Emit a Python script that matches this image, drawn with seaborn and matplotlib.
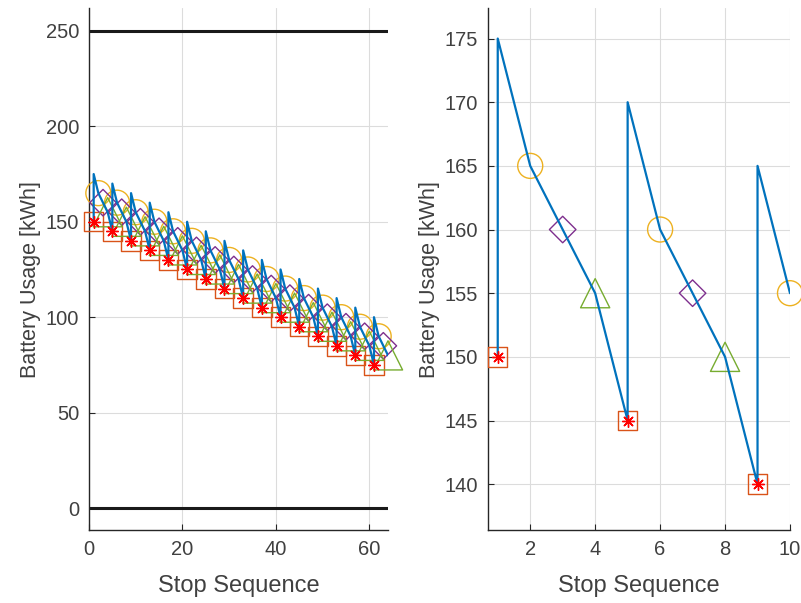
import matplotlib
matplotlib.use("Agg")
import matplotlib.pyplot as plt
import seaborn as sns
import pandas as pd

sns.set_theme(style="white")
plt.rcParams['font.family'] = ['Liberation Sans', 'DejaVu Sans']

# ---- data ----
stops = list(range(1, 65))
# battery on arrival at each stop
arrive = [150, 165, 160, 155, 145, 160, 155, 150, 140, 155, 150, 145,
          135, 150, 145, 140, 130, 145, 140, 135, 125, 140, 135, 130,
          120, 135, 130, 125, 115, 130, 125, 120, 110, 125, 120, 115,
          105, 120, 115, 110, 100, 115, 110, 105, 95, 110, 105, 100,
          90, 105, 100, 95, 85, 100, 95, 90, 80, 95, 90, 85,
          75, 90, 85, 80]
# battery after charging at each stop
depart = [175, 165, 160, 155, 170, 160, 155, 150, 165, 155, 150, 145,
          160, 150, 145, 140, 155, 145, 140, 135, 150, 140, 135, 130,
          145, 135, 130, 125, 140, 130, 125, 120, 135, 125, 120, 115,
          130, 120, 115, 110, 125, 115, 110, 105, 120, 110, 105, 100,
          115, 105, 100, 95, 110, 100, 95, 90, 105, 95, 90, 85,
          100, 90, 85, 80]
limit_lines = [0, 250]
left_xticks = [0, 20, 40, 60]
left_yticks = [0, 50, 100, 150, 200, 250]
right_xticks = [2, 4, 6, 8, 10]
right_yticks = [140, 145, 150, 155, 160, 165, 170, 175]

# build line path (vertical jump where charging happens)
lx, ly = [], []
for s, a, d in zip(stops, arrive, depart):
    lx.append(s); ly.append(a)
    if d != a:
        lx.append(s); ly.append(d)
line_df = pd.DataFrame({"x": lx, "y": ly})
stop_df = pd.DataFrame({"x": stops, "y": arrive})
stop_df["kind"] = [(s - 1) % 4 for s in stops]

BLUE = "#0072BD"
ORANGE = "#D95319"
YELLOW = "#EDB120"
PURPLE = "#7E2F8E"
GREEN = "#77AC30"
AXC = "#262626"
TXT = "#404040"

marker_specs = [
    (0, "s", ORANGE, 14),
    (1, "o", YELLOW, 18),
    (2, "D", PURPLE, 13.5),
    (3, "^", GREEN, 21),
]

fig = plt.figure(figsize=(8.01, 6.03), dpi=100)
ax1 = fig.add_axes([89 / 801, 73 / 603, 299 / 801, 522 / 603])
ax2 = fig.add_axes([488 / 801, 73 / 603, 302 / 801, 522 / 603])


def draw(ax, xmax):
    ldf = line_df[line_df["x"] <= xmax]
    sdf = stop_df[stop_df["x"] <= xmax]
    for kind, m, col, ms in marker_specs:
        d = sdf[sdf["kind"] == kind]
        sns.scatterplot(data=d, x="x", y="y", ax=ax, marker=m, s=ms ** 2,
                        facecolors="none", edgecolor=col, linewidth=1.0,
                        clip_on=False, zorder=3, legend=False)
    sns.lineplot(data=ldf, x="x", y="y", ax=ax, sort=False, estimator=None,
                 color=BLUE, linewidth=1.6, zorder=4, legend=False)
    d = sdf[sdf["kind"] == 0]
    sns.scatterplot(data=d, x="x", y="y", ax=ax, marker=(8, 2, 0), s=8.5 ** 2,
                    color="red", linewidth=1.0, clip_on=False, zorder=5,
                    legend=False)


draw(ax1, 64)
for v in limit_lines:
    sns.lineplot(x=[0, 64], y=[v, v], ax=ax1, color="#1a1a1a", linewidth=2.2,
                 zorder=2)
draw(ax2, 10)

ax1.set_xlim(0, 64)
ax1.set_ylim(-11.5, 262)
ax1.set_xticks(left_xticks)
ax1.set_yticks(left_yticks)
ax2.set_xlim(0.7, 10)
ax2.set_ylim(136.4, 177.4)
ax2.set_xticks(right_xticks)
ax2.set_yticks(right_yticks)

for ax in (ax1, ax2):
    ax.grid(True, color="#dcdcdc", linewidth=0.8)
    ax.set_axisbelow(True)
    for sp in ("top", "right"):
        ax.spines[sp].set_visible(False)
    for sp in ("left", "bottom"):
        ax.spines[sp].set_color(AXC)
        ax.spines[sp].set_linewidth(1.0)
    ax.tick_params(direction="in", length=4, width=0.8, colors=AXC,
                   labelsize=14.5, labelcolor=TXT, left=True, bottom=True)
    ax.tick_params(axis="x", pad=7.5)
    ax.tick_params(axis="y", pad=7)
    ax.set_xlabel("Stop Sequence", fontsize=17, color=TXT, labelpad=11)
    ax.set_ylabel("Battery Usage [kWh]", fontsize=15.5, color=TXT, labelpad=3.5)
    ax.yaxis.label.set_y(0.48)
    ax.set_facecolor("white")

fig.savefig("out.png", dpi=100, facecolor="white")
